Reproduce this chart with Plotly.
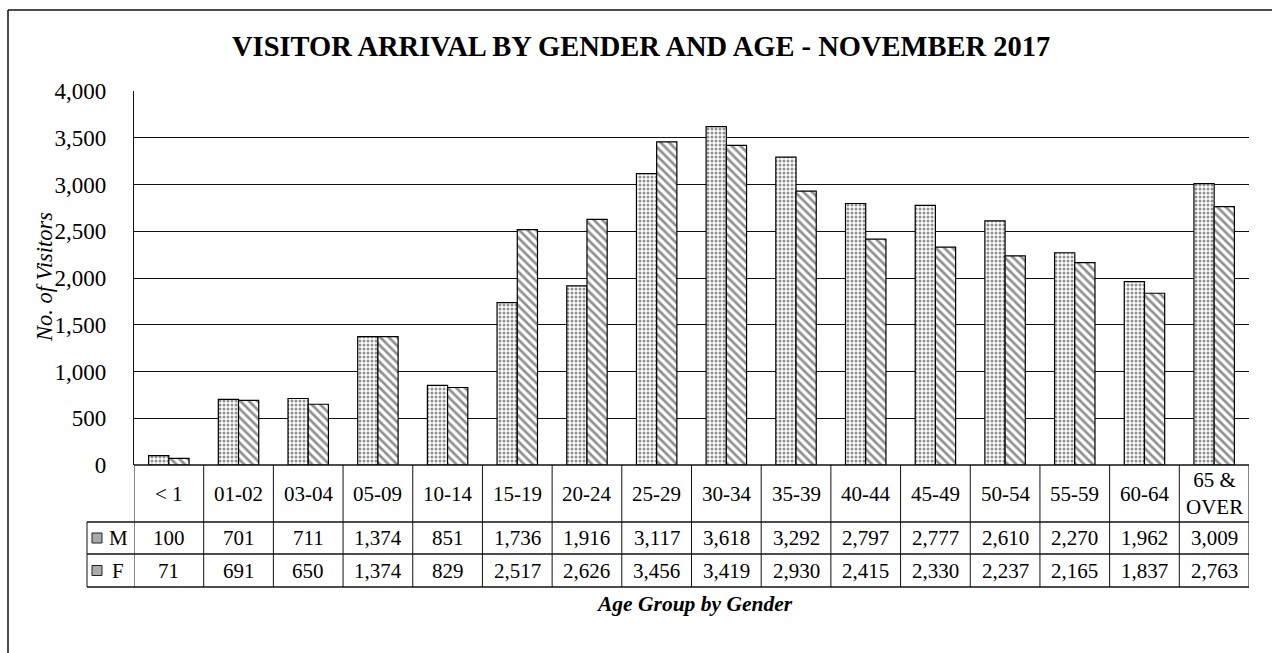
import plotly.graph_objects as go

categories = ["< 1", "01-02", "03-04", "05-09", "10-14", "15-19", "20-24", "25-29",
              "30-34", "35-39", "40-44", "45-49", "50-54", "55-59", "60-64", "65 &<br>OVER"]
male = [100, 701, 711, 1374, 851, 1736, 1916, 3117, 3618, 3292, 2797, 2777, 2610, 2270, 1962, 3009]
female = [71, 691, 650, 1374, 829, 2517, 2626, 3456, 3419, 2930, 2415, 2330, 2237, 2165, 1837, 2763]
y_ticks = [0, 500, 1000, 1500, 2000, 2500, 3000, 3500, 4000]
series_names = ["M", "F"]

W, H = 1272, 653
L, R, T, B = 134, 23, 91, 188
PW, PH = W - L - R, H - T - B
FONT = "Liberation Serif"


def px(p):
    return (p - L) / PW


def py(p):
    return (H - B - p) / PH


xs = list(range(len(categories)))

fig = go.Figure()
fig.add_trace(go.Bar(
    x=xs, y=male, name=series_names[0],
    marker=dict(color="white", line=dict(color="black", width=1.2),
                pattern=dict(shape=".", fgcolor="#222", bgcolor="white", size=4, solidity=0.45)),
))
fig.add_trace(go.Bar(
    x=xs, y=female, name=series_names[1],
    marker=dict(color="white", line=dict(color="black", width=1.2),
                pattern=dict(shape="\\", fgcolor="#222", bgcolor="white", size=6, solidity=0.45)),
))

shapes = []
ann = []
line_c = "#111"

# outer frame (left and top)
shapes.append(dict(type="line", xref="paper", yref="paper", x0=px(8), x1=px(W), y0=py(10), y1=py(10),
                   line=dict(color=line_c, width=1.5)))
shapes.append(dict(type="line", xref="paper", yref="paper", x0=px(8), x1=px(8), y0=py(10), y1=py(H),
                   line=dict(color=line_c, width=1.5)))

# table rows
row_cat = (465, 522)
row_m = (522, 554)
row_f = (554, 587)
for yy in [row_m[0], row_f[0], row_f[1]]:
    shapes.append(dict(type="line", xref="paper", yref="paper", x0=px(87), x1=1, y0=py(yy), y1=py(yy),
                       line=dict(color=line_c, width=1.3)))
shapes.append(dict(type="line", xref="paper", yref="paper", x0=0, x1=1, y0=py(465), y1=py(465),
                   line=dict(color=line_c, width=1.3)))
for i in range(len(categories) + 1):
    shapes.append(dict(type="line", xref="x", yref="paper", x0=i - 0.5, x1=i - 0.5,
                       y0=py(465), y1=py(587), line=dict(color=line_c, width=1)))
shapes.append(dict(type="line", xref="paper", yref="paper", x0=px(87), x1=px(87),
                   y0=py(522), y1=py(587), line=dict(color=line_c, width=1)))

tfont = dict(family=FONT, size=21, color="black")
for i, c in enumerate(categories):
    ann.append(dict(x=i, y=py(sum(row_cat) / 2), xref="x", yref="paper", text=c, showarrow=False,
                    font=tfont, yanchor="middle", xanchor="center"))
    ann.append(dict(x=i, y=py(sum(row_m) / 2), xref="x", yref="paper", text=f"{male[i]:,}",
                    showarrow=False, font=tfont, yanchor="middle"))
    ann.append(dict(x=i, y=py(sum(row_f) / 2), xref="x", yref="paper", text=f"{female[i]:,}",
                    showarrow=False, font=tfont, yanchor="middle"))

# legend keys in table
for row, name in [(row_m, series_names[0]), (row_f, series_names[1])]:
    cy = sum(row) / 2
    shapes.append(dict(type="rect", xref="paper", yref="paper", x0=px(92), x1=px(102),
                       y0=py(cy + 5), y1=py(cy - 5), fillcolor="#aaa",
                       line=dict(color="#222", width=1)))
    ann.append(dict(x=px(118), y=py(cy), xref="paper", yref="paper", text=name, showarrow=False,
                    font=tfont, yanchor="middle", xanchor="center"))

# titles
ann.append(dict(x=px(641), y=py(47), xref="paper", yref="paper",
                text="<b>VISITOR ARRIVAL BY GENDER AND AGE - NOVEMBER 2017</b>", showarrow=False,
                font=dict(family=FONT, size=28.5, color="black"), yanchor="middle"))
ann.append(dict(x=px(694), y=py(604), xref="paper", yref="paper",
                text="<b><i>Age Group by Gender</i></b>", showarrow=False,
                font=dict(family=FONT, size=21.5, color="black"), yanchor="middle"))
ann.append(dict(x=px(44), y=py(277), xref="paper", yref="paper",
                text="<i>No. of Visitors</i>", showarrow=False, textangle=-90,
                font=dict(family=FONT, size=22.5, color="black"), yanchor="middle", xanchor="center"))

fig.update_layout(
    width=W, height=H,
    margin=dict(l=L, r=R, t=T, b=B, autoexpand=False),
    paper_bgcolor="white", plot_bgcolor="white",
    barmode="group", bargap=0.42, bargroupgap=0,
    showlegend=False,
    shapes=shapes, annotations=ann,
    font=dict(family=FONT, color="black"),
)
fig.update_xaxes(range=[-0.5, len(categories) - 0.5], showticklabels=False, showgrid=False,
                 zeroline=False, showline=False, ticks="")
fig.update_yaxes(range=[0, 4000], tickvals=y_ticks, tickformat=",", showgrid=True,
                 gridcolor=line_c, gridwidth=1.3, zeroline=False, showline=True,
                 linecolor=line_c, linewidth=1.3, ticks="", ticklabelstandoff=22,
                 tickfont=dict(family=FONT, size=23, color="black"))

fig.write_html("out.html", config={"displayModeBar": False},
               post_script="document.body.style.margin='0';document.body.style.overflow='hidden';")
